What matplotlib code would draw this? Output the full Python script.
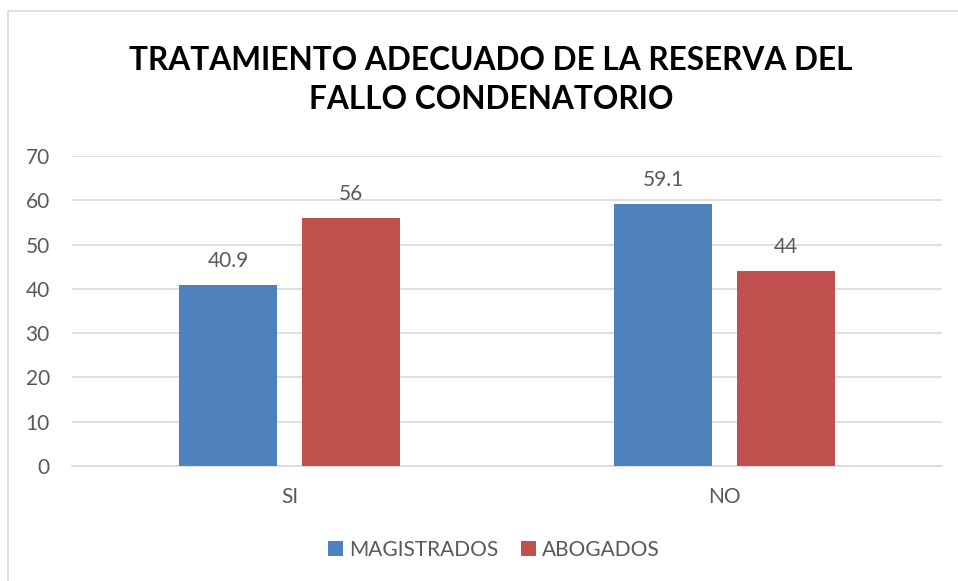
import numpy as np
import matplotlib.pyplot as plt
from matplotlib.patches import Rectangle

categories = ["SI", "NO"]
magistrados = [40.9, 59.1]
abogados = [56, 44]
mag_labels = ["40.9", "59.1"]
abo_labels = ["56", "44"]

blue = "#4F81BD"
red = "#C0504D"
txt = "#595959"

plt.rcParams["font.family"] = ["Lato", "DejaVu Sans"]

fig = plt.figure(figsize=(9.58, 5.81), dpi=100)
fig.patches.append(Rectangle((8 / 958, -0.1), 1.2, 1 - 11 / 581 + 0.1,
                             transform=fig.transFigure, fill=False,
                             edgecolor="#D9D9D9", linewidth=1.2))

ax = fig.add_axes([72 / 958, 1 - 466 / 581, 870 / 958, 310 / 581])

x = np.arange(len(categories))
w = 0.225
off = 0.141
b1 = ax.bar(x - off, magistrados, w, color=blue, label="MAGISTRADOS", zorder=3)
b2 = ax.bar(x + off, abogados, w, color=red, label="ABOGADOS", zorder=3)

for rect, lab in zip(b1, mag_labels):
    ax.text(rect.get_x() + rect.get_width() / 2, rect.get_height() + 3.2, lab,
            ha="center", va="bottom", fontsize=15, color=txt)
for rect, lab in zip(b2, abo_labels):
    ax.text(rect.get_x() + rect.get_width() / 2, rect.get_height() + 3.2, lab,
            ha="center", va="bottom", fontsize=15, color=txt)

ax.set_xlim(-0.5, 1.5)
ax.set_ylim(0, 70)
ax.set_yticks(range(0, 71, 10))
ax.set_xticks(x)
ax.set_xticklabels(categories)
ax.tick_params(axis="both", length=0, labelsize=15, labelcolor=txt)
ax.tick_params(axis="y", pad=16)
ax.tick_params(axis="x", pad=15)
ax.grid(axis="y", color="#D9D9D9", linewidth=1.2, zorder=0)
for s in ["top", "right", "left"]:
    ax.spines[s].set_visible(False)
ax.spines["bottom"].set_color("#D9D9D9")
ax.spines["bottom"].set_linewidth(1.2)

fig.text(491 / 958, 1 - 80 / 581, "TRATAMIENTO ADECUADO DE LA RESERVA DEL\nFALLO CONDENATORIO",
         ha="center", va="center", fontsize=22.8, fontweight="bold",
         color="black", linespacing=1.45)

fig.legend(loc="center", bbox_to_anchor=(494 / 958, 1 - 550 / 581), ncol=2,
           frameon=False, fontsize=15, labelcolor=txt,
           handlelength=0.7, handleheight=0.7, columnspacing=1.1, handletextpad=0.3)

fig.savefig("out.png", dpi=100)
